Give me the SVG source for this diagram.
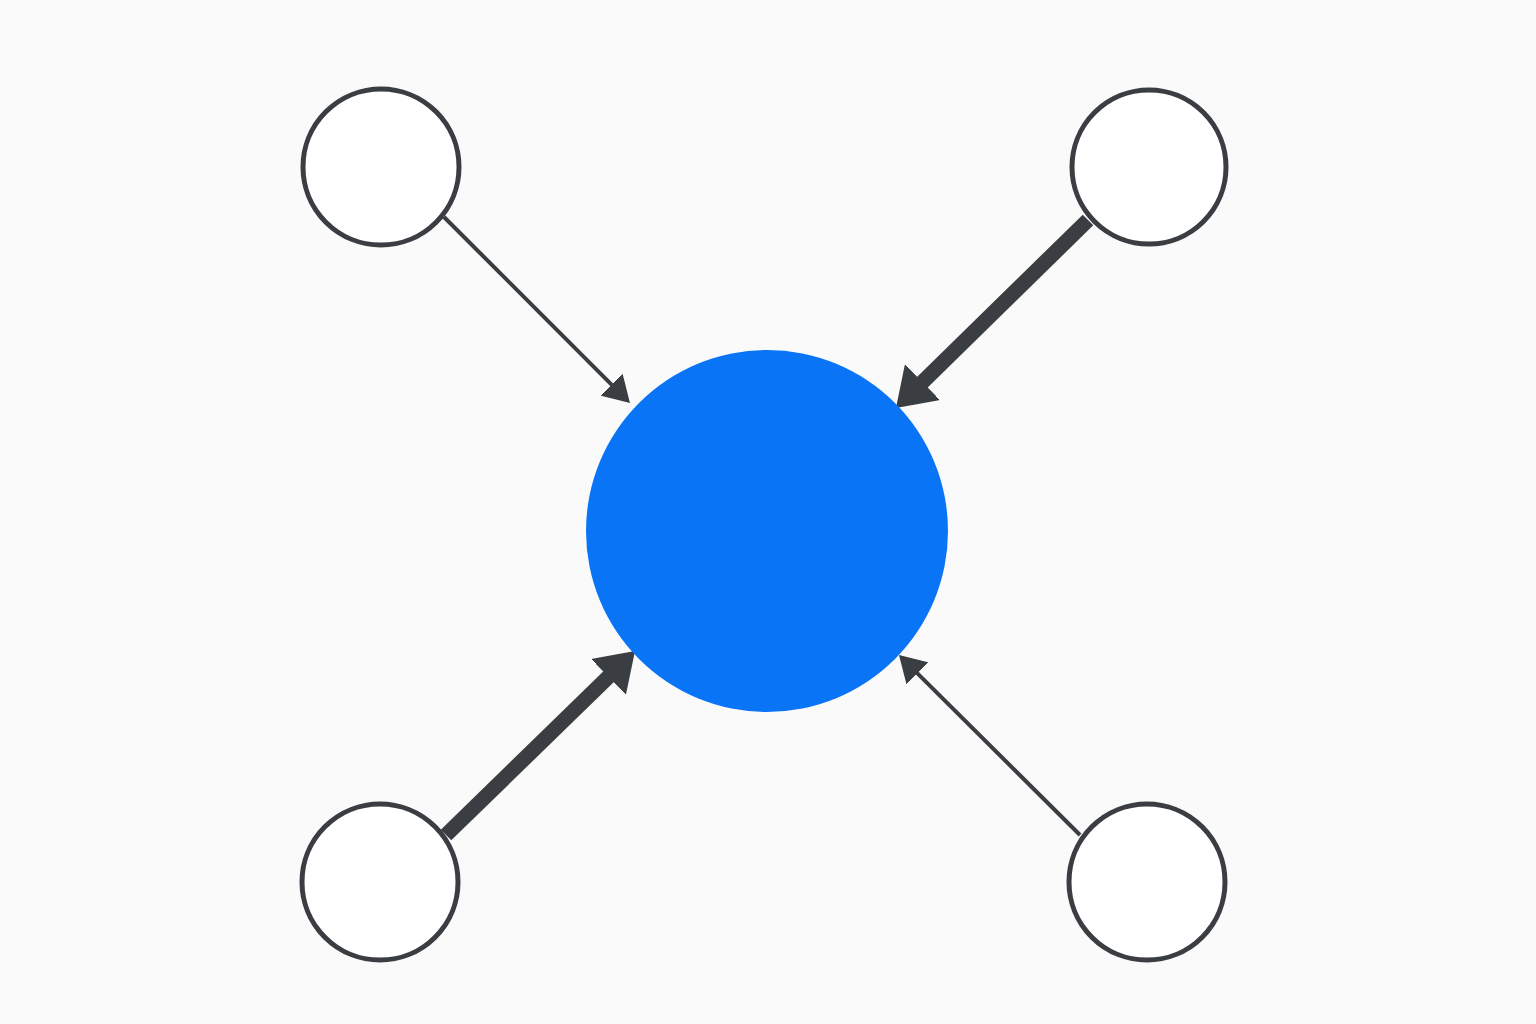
<svg xmlns="http://www.w3.org/2000/svg" width="1536" height="1024" viewBox="0 0 1536 1024">
  <style>
    .outer { fill: #ffffff; stroke: #3a3d41; stroke-width: 5; }
    .hub { fill: #0a74f7; }
    .thin { stroke: #3a3d41; stroke-width: 4; fill: none; }
    .thick { stroke: #3a3d41; stroke-width: 15; fill: none; }
  </style>
  <defs>
    <marker id="headThin" markerUnits="userSpaceOnUse" viewBox="0 0 26 31" markerWidth="26" markerHeight="31" refX="1" refY="15.5" orient="auto">
      <path d="M0,0 L26,15.5 L0,31 Z" fill="#3a3d41"/>
    </marker>
    <marker id="headThick" markerUnits="userSpaceOnUse" viewBox="0 0 37 50" markerWidth="37" markerHeight="50" refX="1" refY="25" orient="auto">
      <path d="M0,0 L37,25 L0,50 Z" fill="#3a3d41"/>
    </marker>
  </defs>
  <rect width="1536" height="1024" fill="#fafafa"/>
  <g id="connectors">
    <line class="thin" x1="444" y1="217" x2="612.3" y2="385.3" marker-end="url(#headThin)"/>
    <line class="thick" x1="1088" y1="220" x2="921.7" y2="382.8" marker-end="url(#headThick)"/>
    <line class="thick" x1="446" y1="835" x2="609.2" y2="676.1" marker-end="url(#headThick)"/>
    <line class="thin" x1="1080" y1="835" x2="916.7" y2="672.6" marker-end="url(#headThin)"/>
  </g>
  <g id="hub"><circle class="hub" cx="767" cy="531" r="181"/></g>
  <g id="node-tl"><circle class="outer" cx="381" cy="167" r="78"/></g>
  <g id="node-tr"><circle class="outer" cx="1149" cy="167" r="77"/></g>
  <g id="node-bl"><circle class="outer" cx="380" cy="882" r="78"/></g>
  <g id="node-br"><circle class="outer" cx="1147" cy="882" r="78"/></g>
</svg>
